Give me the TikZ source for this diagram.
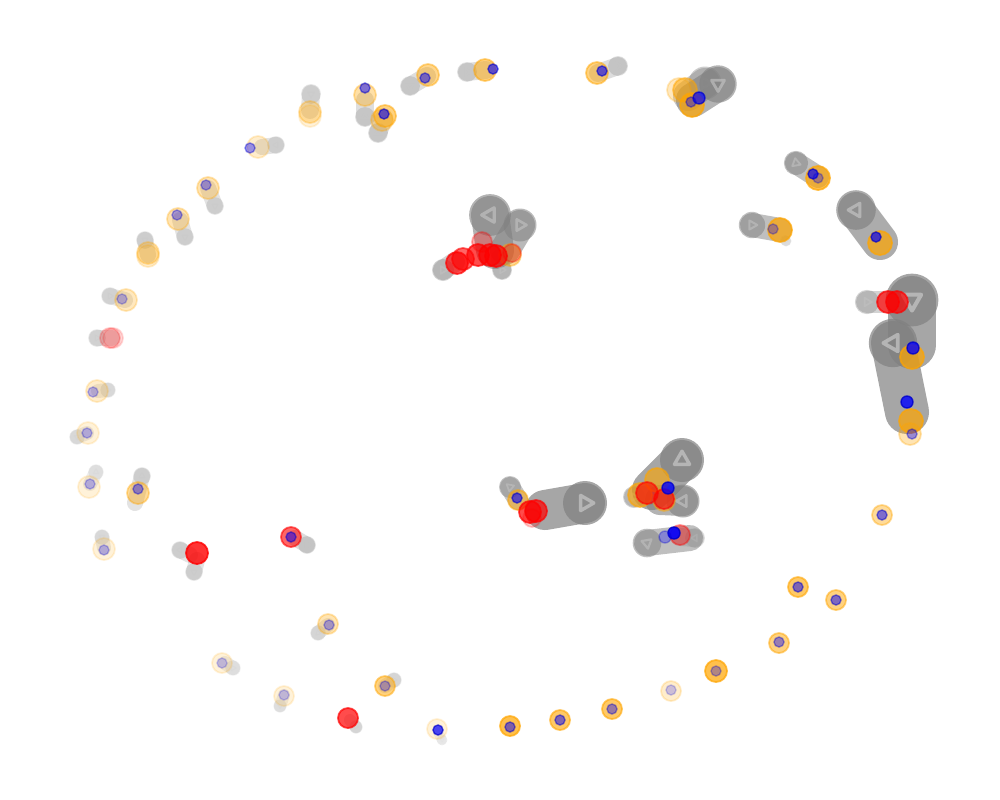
\documentclass[tikz,border=0pt]{standalone}
\usepackage{xcolor}
\definecolor{dotorange}{HTML}{FFA500}

\begin{document}
\begin{tikzpicture}[x=0.01cm,y=-0.01cm,
    body/.style={black!50,line cap=round},
    headdisc/.style={fill=black!50},
    glyph/.style={black!22,line join=round},
    orangedot/.style={draw=dotorange,fill=dotorange,line width=0.5pt},
    reddot/.style={draw=red,fill=red,line width=0.5pt},
    bluedot/.style={draw=blue!80!black,fill=blue,line width=0.4pt}]
  \useasboundingbox (0,0) rectangle (1000,800);
  % agents: tail x/y, head x/y, width, opacity, heading
  \foreach \xa/\ya/\xb/\yb/\w/\op/\ang in {
      262/147/276/145/16/0.22/180, 310/110/311/94/18/0.22/90,
      365/100/365/117/18/0.26/270, 384/118/378/133/18/0.26/270,
      427/76/410/86/18/0.26/90, 486/70/467/72/18/0.26/0,
      598/73/618/66/18/0.27/0, 688/96/705/83/30/0.4/0,
      693/100/718/84/34/0.6/330,
      818/177/796/163/22/0.5/20, 880/242/856/210/36/0.65/180,
      780/230/752/225/24/0.5/0, 893/302/867/302/22/0.35/0,
      912/345/912/300/48/0.7/90, 907/412/893/343/44/0.7/180,
      495/250/490/215/38/0.6/180, 505/250/520/225/30/0.55/0,
      455/262/443/270/20/0.35/0, 500/258/502/270/18/0.35/0,
      518/500/510/487/20/0.45/100, 545/510/585/503/40/0.7/0,
      652/490/682/460/40/0.7/270, 660/500/683/501/30/0.6/180,
      650/495/634/497/20/0.35/0, 690/538/647/543/26/0.5/200,
      680/537/695/538/18/0.25/180,
      208/188/215/206/16/0.22/90, 180/220/185/237/16/0.22/90,
      148/255/145/240/16/0.22/90, 125/300/110/296/16/0.2/0,
      112/338/97/338/16/0.2/0, 98/391/108/390/14/0.17/0,
      87/433/77/437/14/0.17/200, 90/484/96/472/14/0.14/270,
      135/503/142/476/16/0.22/270, 104/548/102/537/14/0.17/90,
      190/555/180/550/16/0.22/180, 197/560/194/572/16/0.22/90,
      295/538/307/545/16/0.27/0, 328/625/318/633/14/0.18/135,
      225/663/233/668/14/0.14/0, 284/695/280/706/12/0.14/90,
      350/720/356/727/12/0.18/0, 385/686/394/680/14/0.18/0,
      438/732/442/740/10/0.1/90, 785/240/786/241/10/0.15/0} {
    \draw[body,opacity=\op,line width={\w*0.2845pt}] (\xa,\ya) -- (\xb,\yb);
    \fill[headdisc,opacity=\op] (\xb,\yb) circle ({\w*0.55});
    \draw[glyph,opacity=\op,line width={\w*0.024pt}]
      ([shift={(\ang:\w*0.22)}]\xb,\yb) -- ([shift={(\ang+120:\w*0.22)}]\xb,\yb)
      -- ([shift={(\ang+240:\w*0.22)}]\xb,\yb) -- cycle;
  }
  % orange
  \foreach \x/\y/\r/\op in {
      258/147/11/0.2, 310/112/11/0.3, 310/116/11/0.15, 365/95/11/0.35,
      385/116/11/0.5, 382/120/11/0.3, 428/75/11/0.45, 485/70/11/0.5,
      597/73/11/0.5, 685/90/12/0.5, 679/90/12/0.25, 692/105/12/0.7,
      818/178/12/0.7, 880/243/12/0.7, 780/230/12/0.7, 912/357/12/0.7,
      911/421/12/0.7, 910/434/11/0.3,
      208/188/11/0.3, 178/219/11/0.3, 148/253/11/0.3, 148/256/11/0.2,
      126/300/11/0.25, 97/391/11/0.2, 88/433/11/0.15, 89/487/11/0.15,
      138/493/11/0.4, 104/549/11/0.15, 328/624/10/0.3, 222/663/10/0.15,
      284/696/10/0.15, 385/686/10/0.5, 437/729/10/0.15, 510/726/10/0.7,
      560/720/10/0.6, 612/709/10/0.6, 671/691/10/0.2, 716/671/11/0.7,
      779/643/10/0.5, 798/587/10/0.6, 836/600/10/0.5, 882/515/10/0.4,
      510/255/11/0.4, 518/500/10/0.5, 657/480/12/0.6, 640/495/12/0.6,
      664/500/11/0.4}
    \filldraw[orangedot,opacity=\op] (\x,\y) circle (\r);
  % red
  \foreach \x/\y/\r/\op in {
      110/338/10/0.2, 113/338/10/0.15, 197/553/11/0.8, 291/537/10/0.6,
      348/718/10/0.7, 457/263/11/0.7, 463/259/11/0.6, 478/255/11/0.7,
      490/255/11/0.7, 496/256/11/0.7, 482/242/10/0.3, 512/253/9/0.3,
      530/512/11/0.7, 536/511/11/0.7, 532/518/9/0.2, 888/302/11/0.7,
      897/302/11/0.7, 647/493/11/0.6, 664/499/10/0.6, 680/535/10/0.4}
    \filldraw[reddot,opacity=\op] (\x,\y) circle (\r);
  % blue
  \foreach \x/\y/\r/\op in {
      250/148/5/0.4, 365/88/5/0.5, 384/114/5/0.6, 425/78/5/0.5,
      493/69/5/0.6, 602/71/5/0.6, 699/98/6/0.7, 691/102/5/0.4,
      813/174/5/0.7, 818/178/5/0.3, 876/237/5/0.7, 773/229/5/0.3,
      913/348/6/0.8, 907/402/6/0.8, 912/434/5/0.4,
      206/185/5/0.35, 177/215/5/0.35, 122/299/5/0.25, 93/392/5/0.25,
      87/433/5/0.25, 90/484/5/0.25, 138/489/5/0.4, 104/550/5/0.25,
      291/537/5/0.5, 329/625/5/0.3, 222/663/5/0.2, 284/695/5/0.2,
      385/686/5/0.3, 438/730/5/0.7, 510/727/5/0.5, 560/720/5/0.5,
      612/709/5/0.4, 671/690/5/0.2, 716/671/5/0.3, 779/642/5/0.4,
      798/587/5/0.5, 836/600/5/0.5, 882/515/5/0.5,
      517/498/5/0.6, 668/488/6/0.8, 674/533/6/0.9, 665/537/6/0.3}
    \filldraw[bluedot,opacity=\op] (\x,\y) circle (\r);
\end{tikzpicture}
\end{document}
